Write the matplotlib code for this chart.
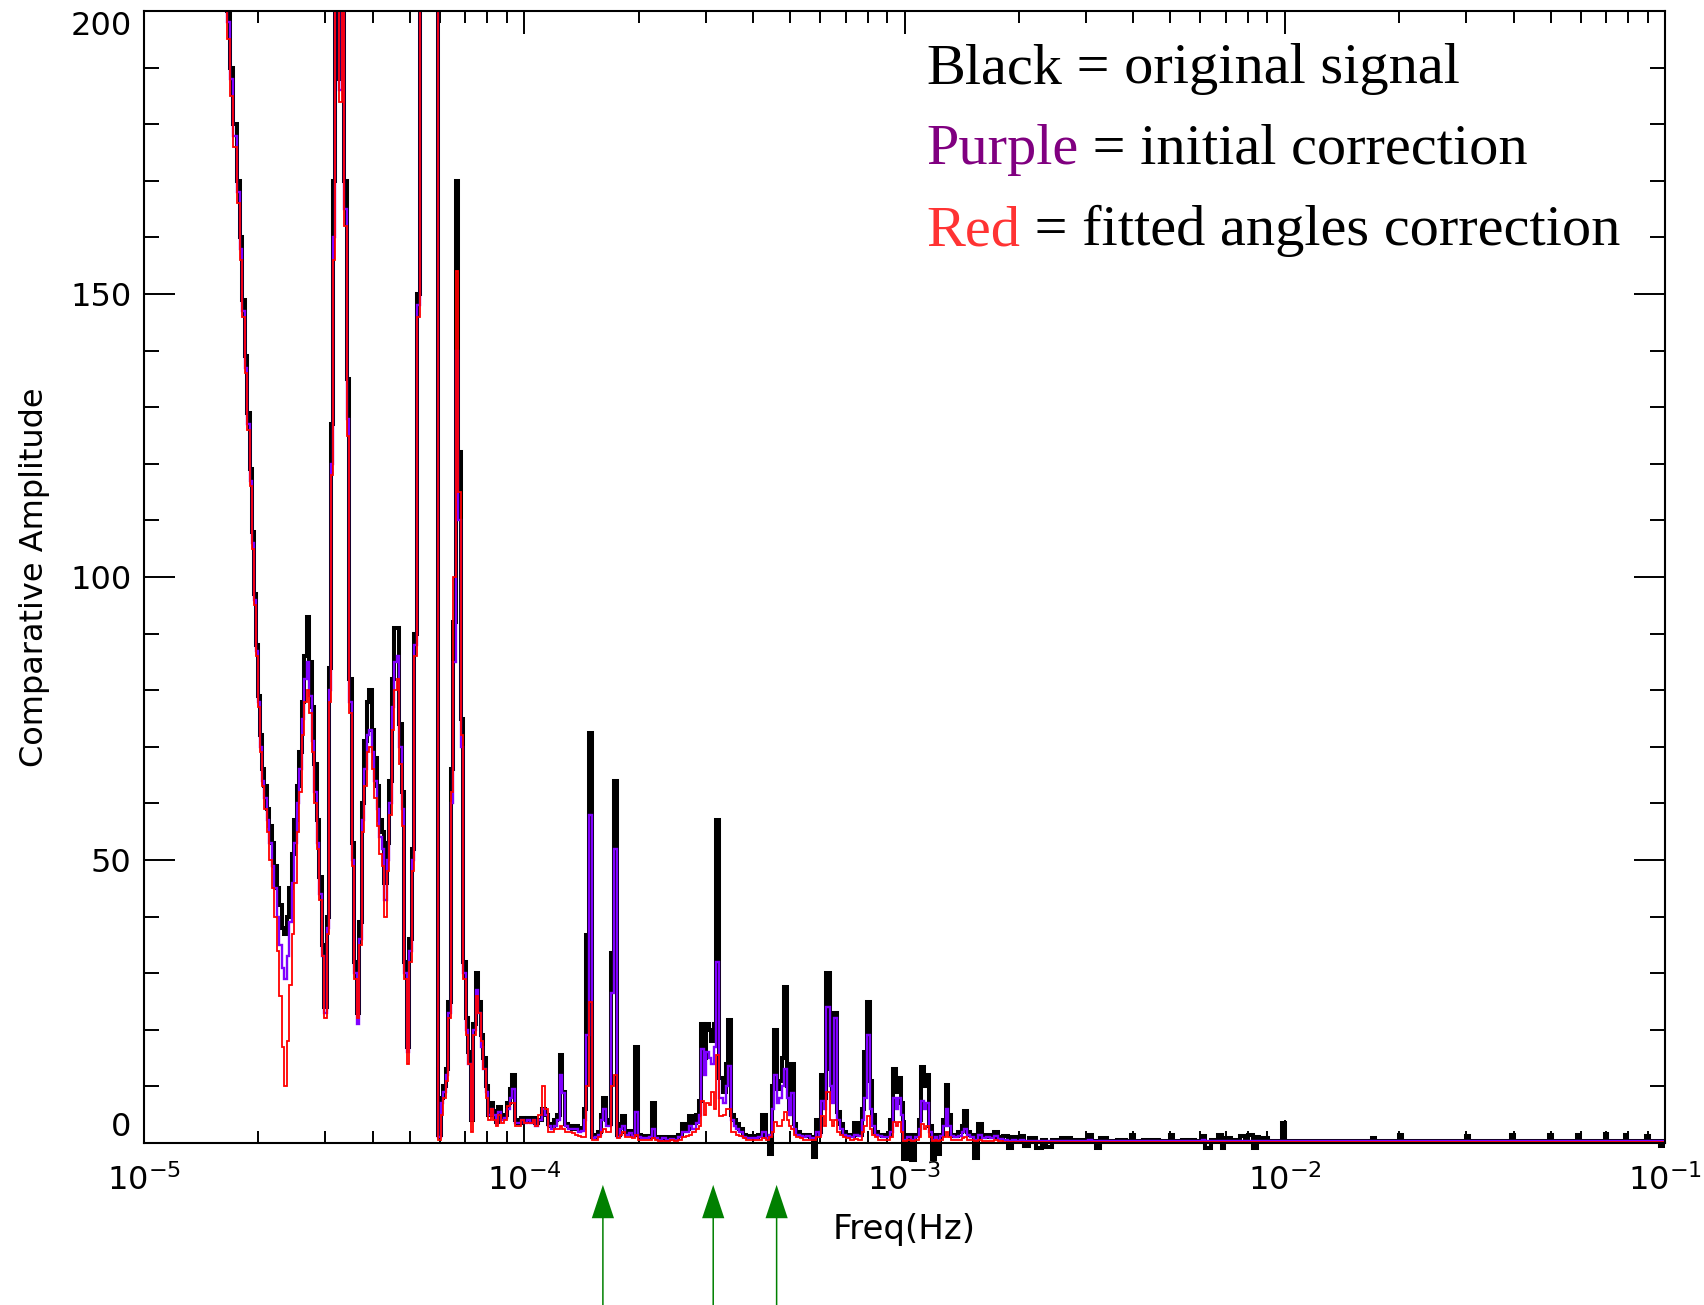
import numpy as np
import matplotlib
matplotlib.use("Agg")
import matplotlib.pyplot as plt
from matplotlib.ticker import LogLocator, NullFormatter, MultipleLocator
from matplotlib.transforms import Bbox, TransformedBbox

# ---- data (log10 of frequency in Hz, amplitude) ----
# low frequency part, 1.6e-5 .. 8.6e-5 Hz
lf_logf = [-4.7949, -4.7844, -4.7765, -4.7686, -4.7607, -4.7528, -4.7449, -4.7383, -4.7318, -4.7252,
           -4.7186, -4.7133, -4.7081, -4.7028, -4.6976, -4.6923, -4.6871, -4.6805, -4.6739, -4.6673,
           -4.6607, -4.6542, -4.6476, -4.6410, -4.6345, -4.6279, -4.6213, -4.6147, -4.6082, -4.6016,
           -4.5950, -4.5884, -4.5819, -4.5753, -4.5687, -4.5621, -4.5556, -4.5490, -4.5424, -4.5358,
           -4.5293, -4.5227, -4.5161, -4.5108, -4.5056, -4.5003, -4.4938, -4.4898, -4.4832, -4.4767,
           -4.4701, -4.4635, -4.4569, -4.4504, -4.4438, -4.4372, -4.4306, -4.4241, -4.4175, -4.4109,
           -4.4043, -4.3978, -4.3912, -4.3846, -4.3780, -4.3715, -4.3649, -4.3583, -4.3517, -4.3452,
           -4.3386, -4.3320, -4.3254, -4.3189, -4.3123, -4.3057, -4.2991, -4.2926, -4.2860, -4.2794,
           -4.2715, -4.2610, -4.2505, -4.2400, -4.2295, -4.2229, -4.2163, -4.2097, -4.2032, -4.1966,
           -4.1900, -4.1834, -4.1769, -4.1703, -4.1637, -4.1571, -4.1506, -4.1440, -4.1374, -4.1308,
           -4.1243, -4.1177, -4.1111, -4.1045, -4.0980, -4.0914, -4.0848, -4.0782, -4.0717, -4.0651]
lf_black = [240, 215, 200, 190, 180, 170, 160, 149, 139, 129,
            119, 108, 97, 88, 79, 72, 66, 63, 59, 56,
            53, 49, 45, 42, 38, 37, 40, 45, 51, 57,
            63, 69, 78, 86, 93, 85, 77, 67, 57, 47,
            35, 24, 40, 84, 127, 170, 230, 230, 188, 230,
            170, 135, 82, 53, 32, 23, 39, 60, 71, 78,
            80, 73, 68, 63, 57, 55, 46, 53, 64, 82,
            91, 91, 74, 62, 32, 17, 36, 52, 90, 150,
            230, 230, 230, 230, 230, 1.5, 8, 10, 13, 25,
            66, 92, 170, 122, 75, 32, 22, 16, 4, 21,
            30, 25, 19, 15, 10, 5, 7, 5.7, 3.7, 6.3]
lf_purple = [240, 213, 198, 188, 178, 168, 158, 147, 137, 127,
             117, 106, 96, 87, 78, 70, 64, 61, 57, 53,
             49, 45, 40, 35, 31, 29, 33, 39, 46, 53,
             60, 66, 75, 82, 85, 79, 71, 62, 53, 44,
             33, 23, 38, 80, 120, 160, 230, 230, 186, 230,
             165, 128, 78, 50, 30, 21, 36, 57, 66, 72,
             73, 69, 64, 59, 54, 52, 43, 50, 60, 77,
             85, 86, 70, 59, 30, 16, 34, 50, 88, 148,
             230, 230, 230, 230, 230, 1.0, 7, 9, 12, 23,
             60, 85, 140, 110, 70, 30, 20, 14, 4, 20,
             27, 23, 17, 13, 9, 5, 6, 5, 3.5, 5.5]
lf_red = [240, 210, 195, 185, 176, 166, 156, 146, 136, 126,
          116, 105, 95, 86, 77, 69, 63, 59, 55, 50,
          45, 40, 34, 26, 17, 10, 18, 28, 37, 46,
          55, 62, 72, 78, 80, 76, 69, 60, 52, 43,
          33, 22, 37, 78, 118, 156, 230, 230, 184, 230,
          162, 125, 76, 49, 29, 22, 35, 55, 63, 69,
          70, 66, 61, 56, 51, 49, 40, 48, 58, 73,
          80, 82, 67, 56, 29, 14, 32, 48, 86, 146,
          230, 230, 230, 230, 230, 0.5, 5, 8, 11, 22,
          62, 100, 154, 115, 72, 29, 19, 14, 2, 19,
          26, 23, 18, 13, 8, 4, 6, 4, 3, 5]

# middle part, 8.7e-5 .. 1.8e-3 Hz
mf_logf = [-4.0585, -4.0506, -4.0427, -4.0348, -4.0283, -4.0217, -4.0138, -4.0059, -3.9980, -3.9901,
           -3.9822, -3.9744, -3.9665, -3.9586, -3.9507, -3.9428, -3.9349, -3.9270, -3.9191, -3.9112,
           -3.9034, -3.8955, -3.8876, -3.8797, -3.8718, -3.8639, -3.8560, -3.8481, -3.8402, -3.8337,
           -3.8258, -3.8192, -3.8113, -3.8034, -3.7955, -3.7890, -3.7824, -3.7758, -3.7692, -3.7613,
           -3.7534, -3.7456, -3.7377, -3.7298, -3.7219, -3.7140, -3.7061, -3.6982, -3.6903, -3.6824,
           -3.6746, -3.6667, -3.6601, -3.6535, -3.6430, -3.6325, -3.6220, -3.6114, -3.6009, -3.5904,
           -3.5799, -3.5694, -3.5615, -3.5536, -3.5457, -3.5378, -3.5312, -3.5247, -3.5181, -3.5115,
           -3.5049, -3.4984, -3.4905, -3.4826, -3.4747, -3.4668, -3.4602, -3.4536, -3.4458, -3.4379,
           -3.4300, -3.4221, -3.4116, -3.4011, -3.3905, -3.3800, -3.3695, -3.3616, -3.3537, -3.3458,
           -3.3392, -3.3327, -3.3261, -3.3195, -3.3130, -3.3064, -3.3011, -3.2945, -3.2880, -3.2801,
           -3.2722, -3.2643, -3.2538, -3.2433, -3.2354, -3.2288, -3.2222, -3.2156, -3.2091, -3.2012,
           -3.1933, -3.1880, -3.1815, -3.1749, -3.1670, -3.1591, -3.1486, -3.1381, -3.1276, -3.1170,
           -3.1091, -3.1026, -3.0960, -3.0881, -3.0815, -3.0749, -3.0644, -3.0539, -3.0434, -3.0329,
           -3.0263, -3.0197, -3.0131, -3.0066, -2.9987, -2.9882, -2.9776, -2.9671, -2.9592, -2.9527,
           -2.9461, -2.9395, -2.9329, -2.9250, -2.9172, -2.9093, -2.9014, -2.8948, -2.8882, -2.8817,
           -2.8751, -2.8646, -2.8540, -2.8462, -2.8396, -2.8330, -2.8225, -2.8120, -2.8014, -2.7909,
           -2.7804, -2.7699, -2.7594, -2.7488]
mf_black = [4.5, 5, 7, 9.6, 12, 4, 3.5, 4.5, 4, 4.5,
            3.8, 4.4, 3.5, 4, 6, 5, 3.3, 3, 4, 5,
            15.5, 9, 3.4, 3, 2.5, 3, 2.4, 2.6, 6, 36.7,
            72.5, 1.0, 1.4, 2, 5, 8, 4, 3.4, 33.6, 64,
            1.4, 3.4, 4.8, 2, 2.2, 1.5, 17, 1.5, 1.0, 1.2,
            1.0, 1.3, 7, 1.0, 0.8, 1.0, 0.7, 1.0, 0.8, 1.5,
            3.4, 2.5, 4.8, 3.5, 5, 7.5, 21, 15, 21, 20,
            18, 21, 57, 11.5, 9, 14, 21.7, 5, 4, 3.4,
            2.5, 1.4, 1.0, 1.2, 1.0, 1.4, 5, 1.0, -2.0, 10,
            20, 9.5, 11, 15, 27.5, 10, 6, 14, 3.4, 2,
            1.4, 1.2, 1.5, 1.0, -2.5, 4, 2, 12, 8, 30,
            13, 8, 23, 5.4, 3.4, 2, 1.5, 1.2, 3.5, 1.5,
            6, 16, 25, 11, 5, 2, 1.5, 1.2, 1.5, 4,
            13, 9, 11.5, 7, -2.8, 1.5, -3.0, 1.5, 4, 13.4,
            10, 12, 3, -2.8, 1.5, -2.0, 1.5, 4, 10.3, 5,
            1.5, 1.2, 2, 3, 5.6, 2, 1.5, -2.6, 3.4, 1.0,
            1.5, 1.0, 2.0, 1.0]
mf_purple = [4, 4.5, 6, 8, 9.5, 3.5, 3.5, 4, 3.5, 4,
             3.5, 4, 3, 4, 6, 5, 3, 2.5, 3, 4,
             12, 8.8, 3, 2.5, 2.4, 2.5, 2, 2.2, 4, 19,
             58, 0.8, 1, 1.5, 4, 6, 3, 3, 26.5, 52,
             1, 2.5, 3, 1.5, 1.8, 1.2, 5.4, 1.0, 0.8, 0.8,
             0.8, 1, 2.5, 0.8, 0.6, 0.8, 0.6, 0.7, 0.6, 1.0,
             2, 2, 3, 2.5, 3.5, 5, 16.6, 12, 16, 15,
             14, 17, 32, 8, 7, 10, 13.6, 4, 3, 2.5,
             2, 1, 0.8, 0.8, 0.8, 1.0, 2, 0.8, 1.5, 6,
             12, 7, 8, 10, 13, 8, 5, 8.8, 2.5, 1.5,
             1.2, 1, 1.2, 0.8, 0.8, 2, 1.5, 7.5, 6, 24,
             10, 7, 22, 4, 2.5, 1.5, 1.2, 1, 1.5, 1.2,
             4, 8, 19, 6, 3, 1.5, 1.2, 1, 1, 2,
             8, 6, 8, 5, 0.5, 1, 0.5, 1, 2.5, 7.5,
             6, 7, 2, 0.5, 1, 0.5, 1.2, 3, 6, 3,
             1.2, 1, 1.2, 2, 2.5, 1.5, 1, 0.5, 1.5, 0.8,
             1, 0.8, 1.2, 0.7]
mf_red = [3.5, 4, 6.5, 7, 7, 3, 3, 4, 3.5, 3.5,
          3.5, 4, 3, 5, 10, 6, 2, 2, 2.5, 2.5,
          3, 2.5, 2, 2, 1.8, 1.5, 1.2, 1, 1, 10,
          25, 0.5, 0.6, 1, 2, 2.5, 2, 2, 10, 12,
          0.8, 1.5, 2, 1, 1, 0.8, 1.5, 0.6, 0.5, 0.5,
          0.5, 0.5, 0.8, 0.5, 0.4, 0.4, 0.4, 0.5, 0.4, 0.6,
          1, 1.2, 1.5, 2, 2.5, 3, 7.5, 5, 7, 6.8,
          9, 6, 15.6, 4.8, 5, 6, 6, 2, 2, 1.5,
          1.2, 0.8, 0.5, 0.5, 0.5, 0.5, 0.8, 0.5, 1, 2,
          3.7, 3, 3, 4, 5.4, 4, 3, 2.5, 1.5, 1,
          0.8, 0.6, 0.6, 0.5, 0.6, 1, 1, 4.8, 3, 9,
          4, 3, 4, 2, 1.5, 1, 0.8, 0.6, 0.7, 0.6,
          2, 3, 4.8, 2.5, 1.5, 1, 0.6, 0.5, 0.5, 1,
          3.7, 3, 3.7, 2, 0.4, 0.6, 0.4, 0.5, 1, 3.4,
          2.5, 3, 1, 0.3, 0.6, 0.3, 0.5, 1, 2, 1,
          0.5, 0.5, 0.5, 0.8, 1, 0.6, 0.5, 0.4, 0.6, 0.4,
          0.4, 0.4, 0.5, 0.4]

# high frequency part, 1.8e-3 .. 1e-1 Hz
hf_logf = [-2.7357, -2.7225, -2.7120, -2.7015, -2.6910, -2.6805, -2.6647, -2.6437, -2.6331, -2.6226,
           -2.6016, -2.5753, -2.5490, -2.5227, -2.5122, -2.5016, -2.4911, -2.4806, -2.4543, -2.4280,
           -2.4096, -2.4017, -2.3938, -2.3544, -2.3070, -2.2991, -2.2912, -2.2492, -2.2229, -2.2150,
           -2.2071, -2.1835, -2.1703, -2.1624, -2.1546, -2.1283, -2.1072, -2.0993, -2.0914, -2.0782,
           -2.0704, -2.0625, -2.0520, -2.0362, -2.0125, -2.0046, -1.9967, -1.9599, -1.8810, -1.7758,
           -1.7679, -1.7600, -1.7048, -1.6969, -1.6890, -1.6180, -1.5286, -1.5207, -1.5128, -1.4601,
           -1.4102, -1.4023, -1.3944, -1.3550, -1.3103, -1.3024, -1.2945, -1.2630, -1.2341, -1.2262,
           -1.2183, -1.1867, -1.1630, -1.1552, -1.1473, -1.1262, -1.1104, -1.1026, -1.0947, -1.0710,
           -1.0552, -1.0473, -1.0394, -1.0184, -1.0079, -0.9974]
hf_black = [1.2, -0.8, 1.0, 0.3, 1.2, -0.6, 0.8, -0.8, 0.5, -0.7,
            0.6, 0.8, 0.5, 0.6, 1.5, 0.4, -0.8, 0.9, 0.4, 0.5,
            0.4, 1.4, 0.4, 0.5, 0.4, 1.4, 0.4, 0.5, 0.4, 1.3,
            -0.8, 0.5, 1.4, -0.9, 0.9, 0.5, 1.2, 0.4, 1.4, -0.9,
            1.0, 0.4, 0.8, 0.4, 0.3, 3.5, 0.4, 0.3, 0.4, 0.3,
            0.9, 0.3, 0.3, 1.4, 0.3, 0.4, 0.3, 1.2, 0.3, 0.4,
            0.3, 1.4, 0.3, 0.4, 0.3, 1.4, 0.3, 0.4, 0.3, 1.4,
            0.3, 0.4, 0.3, 1.6, 0.3, 0.4, 0.3, 1.4, 0.3, 0.4,
            0.3, 1.2, 0.3, 0.4, -0.5, 0.3]
hf_purple = [0.5, 0.4, 0.5, 0.4, 0.5, 0.3, 0.4, 0.3, 0.3, 0.3,
             0.3, 0.4, 0.3, 0.3, 0.5, 0.3, 0.3, 0.3, 0.3, 0.3,
             0.3, 0.3, 0.3, 0.3, 0.3, 0.3, 0.3, 0.3, 0.3, 0.5,
             0.3, 0.3, 0.3, 0.3, 0.4, 0.3, 0.3, 0.3, 0.4, 0.3,
             0.3, 0.3, 0.3, 0.3, 0.3, 0.3, 0.3, 0.3, 0.3, 0.3,
             0.3, 0.3, 0.3, 0.3, 0.3, 0.3, 0.3, 0.3, 0.3, 0.3,
             0.3, 0.3, 0.3, 0.3, 0.3, 0.3, 0.3, 0.3, 0.3, 0.3,
             0.3, 0.3, 0.3, 0.3, 0.3, 0.3, 0.3, 0.3, 0.3, 0.3,
             0.3, 0.3, 0.3, 0.3, 0.3, 0.3]
hf_red = [0.2, 0.2, 0.2, 0.2, 0.2, 0.2, 0.2, 0.2, 0.2, 0.2,
          0.2, 0.2, 0.2, 0.2, 0.2, 0.2, 0.2, 0.2, 0.2, 0.2,
          0.2, 0.2, 0.2, 0.2, 0.2, 0.2, 0.2, 0.2, 0.2, 0.2,
          0.2, 0.2, 0.2, 0.2, 0.2, 0.2, 0.2, 0.2, 0.2, 0.2,
          0.2, 0.2, 0.2, 0.2, 0.2, 0.2, 0.2, 0.2, 0.2, 0.2,
          0.2, 0.2, 0.2, 0.2, 0.2, 0.2, 0.2, 0.2, 0.2, 0.2,
          0.2, 0.2, 0.2, 0.2, 0.2, 0.2, 0.2, 0.2, 0.2, 0.2,
          0.2, 0.2, 0.2, 0.2, 0.2, 0.2, 0.2, 0.2, 0.2, 0.2,
          0.2, 0.2, 0.2, 0.2, 0.2, 0.2]

arrow_freqs = [1.61e-4, 3.14e-4, 4.61e-4]

legend_lines = [("Black", "#000000", " = original signal"),
                ("Purple", "#800080", " = initial correction"),
                ("Red", "#ff3333", " = fitted angles correction")]

# ---- assemble ----
freq = 10 ** np.array(lf_logf + mf_logf + hf_logf)
black = np.array(lf_black + mf_black + hf_black)
purple = np.array(lf_purple + mf_purple + hf_purple)
red = np.array(lf_red + mf_red + hf_red)
assert len(freq) == len(black) == len(purple) == len(red)

W, H = 1704, 1305
fig = plt.figure(figsize=(W / 100, H / 100), dpi=100)
ax = fig.add_axes([144 / W, 1 - 1143 / H, 1521 / W, 1132 / H])

clip = TransformedBbox(Bbox([[0, -0.02], [1, 1]]), ax.transAxes)
for amp, col, lw in [(black, "#000000", 2.9), (purple, "#8000ff", 1.7), (red, "#ff0000", 1.3)]:
    ln, = ax.plot(freq, amp, color=col, lw=lw, drawstyle="steps-mid",
                  solid_joinstyle="miter", solid_capstyle="butt")
    ln.set_clip_path(None)
    ln.set_clip_box(clip)

ax.set_xscale("log")
ax.set_xlim(1e-5, 1e-1)
ax.set_ylim(0, 200)

ax.xaxis.set_major_locator(LogLocator(base=10, numticks=10))
ax.xaxis.set_minor_locator(LogLocator(base=10, subs=np.arange(2, 10), numticks=20))
ax.xaxis.set_minor_formatter(NullFormatter())
ax.yaxis.set_major_locator(MultipleLocator(50))
ax.yaxis.set_minor_locator(MultipleLocator(10))

for s in ax.spines.values():
    s.set_linewidth(1.5)
ax.tick_params(which="both", direction="in", top=True, right=True, width=1.4)
ax.tick_params(axis="x", which="major", length=16.5, pad=15, labelsize=23)
ax.tick_params(axis="x", which="minor", length=8.5)
ax.tick_params(axis="y", which="major", length=22, pad=9, labelsize=23)
ax.tick_params(axis="y", which="minor", length=11)

ax.set_xlabel("Freq(Hz)", fontsize=24.5)
ax.set_ylabel("Comparative Amplitude", fontsize=23)
ax.xaxis.set_label_coords(0.5, -0.062)
ax.yaxis.set_label_coords(-0.062, 0.5)

fig.canvas.draw()
for lab in ax.get_yticklabels():
    if lab.get_text() == "0":
        lab.set_va("bottom")
    elif lab.get_text() == "200":
        lab.set_va("top")

# green arrows under the frequency axis
trans = ax.get_xaxis_transform()
for f in arrow_freqs:
    ax.annotate("", xy=(f, -0.037), xytext=(f, -0.16), xycoords=trans, textcoords=trans,
                annotation_clip=False,
                arrowprops=dict(facecolor="#008000", edgecolor="none", width=1.1,
                                headwidth=16, headlength=24, shrink=0))

# coloured legend text
renderer = fig.canvas.get_renderer()
for i, (word, col, rest) in enumerate(legend_lines):
    y = 1 - (83 + 81 * i) / H
    t = fig.text(926 / W, y, word, color=col, fontsize=42, family="Liberation Serif",
                 va="baseline", ha="left")
    bb = t.get_window_extent(renderer)
    fig.text(bb.x1 / fig.bbox.width, y, rest, color="#000000", fontsize=42,
             family="Liberation Serif", va="baseline", ha="left")

fig.savefig("out.png", dpi=100)
